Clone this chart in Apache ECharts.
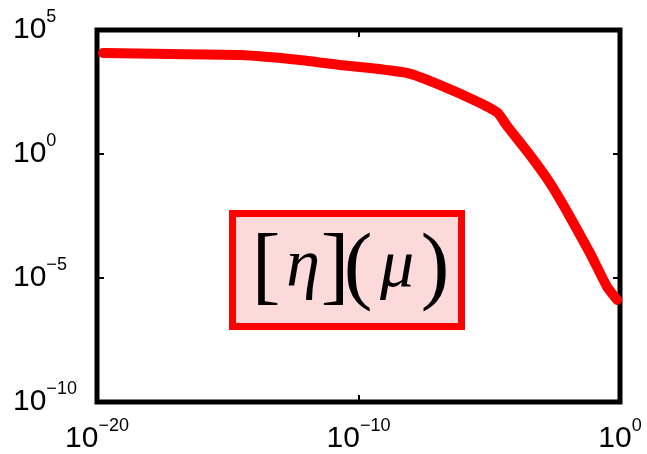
<!DOCTYPE html>
<html>
<head>
<meta charset="utf-8">
<script src="https://cdn.jsdelivr.net/npm/echarts@6/dist/echarts.min.js"></script>
<style>
  html, body { margin: 0; padding: 0; background: #fff; }
  #chart { width: 647px; height: 454px; }
</style>
</head>
<body>
<div id="chart"></div>
<script>
// Sampled points of the curve (x = mu, y = eta), both on log scales
const muValues = [1.7e-20, 6.2e-18, 2.95e-15, 5.75e-13, 1.95e-11, 2.75e-10, 7.1e-9, 1.32e-7,
                  4.47e-6, 2.14e-5, 4.8e-5, 3.6e-4, 2.1e-3, 7.9e-3, 7.1e-2, 0.32, 0.78];
const etaValues = [1.17e4, 1.07e4, 9.8e3, 6.2e3, 3.9e3, 2.95e3, 1.86e3, 600,
                   115, 45, 13.5, 0.91, 0.068, 6.6e-3, 1.02e-4, 4.4e-6, 1.3e-6];

// Axis ranges (powers of ten)
const xRange = [1e-20, 1];
const yRange = [1e-10, 1e5];
const xDecadeStep = 10;
const yDecadeStep = 5;

const boxGlyphs = ['[', 'η', ']', '(', 'μ', ')'];

const points = muValues.map((m, i) => [m, etaValues[i]]);

// "10" followed by a raised exponent
function powerLabel(v) {
  const e = Math.round(Math.log10(v));
  const exp = e < 0 ? '\u2212' + Math.abs(e) : String(e);
  return '{b|10}{e|' + exp + '}';
}

const labelRich = {
  b: { fontFamily: 'Liberation Sans', fontSize: 30, lineHeight: 44, color: '#000' },
  e: { fontFamily: 'Liberation Sans', fontSize: 18, lineHeight: 18, color: '#000', verticalAlign: 'top' }
};

const tickStyle = { show: true, inside: true, length: 7, lineStyle: { color: '#000', width: 2 } };

function logAxis(range, step, extra) {
  return Object.assign({
    type: 'log',
    logBase: 10,
    min: range[0],
    max: range[1],
    interval: step,
    axisLine: { show: false },
    axisTick: tickStyle,
    splitLine: { show: false },
    axisLabel: { show: false }
  }, extra);
}

// One glyph of the boxed label: brackets upright and thin, symbols italic
function glyph(ch, x, y, italic) {
  return {
    type: 'text',
    x: x,
    y: y,
    style: {
      text: ch,
      align: 'center',
      verticalAlign: 'middle',
      fontFamily: 'Liberation Serif',
      fontStyle: italic ? 'italic' : 'normal',
      fontSize: italic ? 68 : 86,
      fill: '#000'
    }
  };
}

const chart = echarts.init(document.getElementById('chart'), null, { renderer: 'canvas' });

chart.setOption({
  backgroundColor: '#fff',
  animation: false,
  grid: {
    left: 97, right: 27, top: 30, bottom: 52,
    show: true, borderColor: '#000', borderWidth: 5, backgroundColor: 'transparent'
  },
  xAxis: [
    logAxis(xRange, xDecadeStep, {
      position: 'bottom',
      axisLabel: {
        show: true, margin: 15, formatter: powerLabel, rich: labelRich,
        showMinLabel: true, showMaxLabel: true, hideOverlap: false
      }
    }),
    logAxis(xRange, xDecadeStep, { position: 'top' })
  ],
  yAxis: [
    logAxis(yRange, yDecadeStep, {
      position: 'left',
      axisLabel: {
        show: true, margin: 84, align: 'left', formatter: powerLabel, rich: labelRich,
        showMinLabel: true, showMaxLabel: true, hideOverlap: false
      }
    }),
    logAxis(yRange, yDecadeStep, { position: 'right' })
  ],
  series: [{
    type: 'line',
    xAxisIndex: 0,
    yAxisIndex: 0,
    data: points,
    showSymbol: false,
    smooth: 0.15,
    lineStyle: { color: '#ff0000', width: 10, cap: 'round', join: 'round' },
    z: 3
  }],
  graphic: [{
    type: 'group',
    left: 229,
    top: 210,
    children: [
      {
        type: 'rect',
        shape: { x: 3.5, y: 3.5, width: 229, height: 113 },
        style: { fill: '#fcdada', stroke: '#ff0000', lineWidth: 7 }
      },
      glyph(boxGlyphs[0], 37, 60, false),
      glyph(boxGlyphs[1], 74, 58, true),
      glyph(boxGlyphs[2], 106, 60, false),
      glyph(boxGlyphs[3], 129, 60, false),
      glyph(boxGlyphs[4], 168, 58, true),
      glyph(boxGlyphs[5], 206, 60, false)
    ]
  }]
});
</script>
</body>
</html>
